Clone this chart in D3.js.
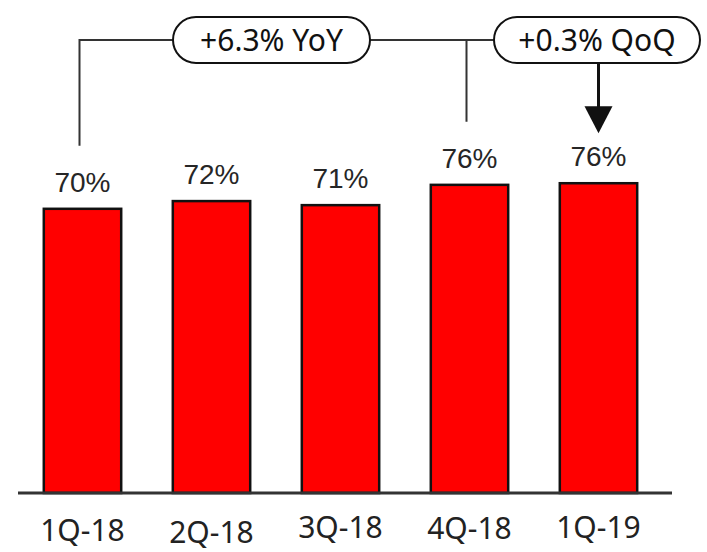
<!DOCTYPE html>
<html>
<head>
<meta charset="utf-8">
<script src="https://cdn.jsdelivr.net/npm/d3@7"></script>
<style>
  body { margin: 0; background: #fff; }
</style>
</head>
<body>
<div id="chart"></div>
<script>
// data
var quarters = ["1Q-18", "2Q-18", "3Q-18", "4Q-18", "1Q-19"];
var shares = [70.0, 71.9, 70.9, 75.9, 76.3];
var yoyText = "+6.3% YoY";
var qoqText = "+0.3% QoQ";

var W = 707, H = 552;
var baseY = 493;

var svg = d3.select("#chart")
    .append("svg")
    .attr("width", W)
    .attr("height", H);

var xScale = d3.scaleBand().domain(quarters).range([18, 663]).paddingInner(0.4).paddingOuter(0.2);
var yScale = d3.scaleLinear().domain([0, 100]).range([baseY, 87]);

function cx(q) { return xScale(q) + xScale.bandwidth() / 2; }

// bars
svg.append("g")
    .selectAll("rect")
    .data(quarters)
    .enter()
    .append("rect")
    .attr("x", function(d) { return xScale(d); })
    .attr("y", function(d, i) { return yScale(shares[i]); })
    .attr("width", xScale.bandwidth())
    .attr("height", function(d, i) { return baseY - yScale(shares[i]); })
    .style("fill", "#ff0000")
    .style("stroke", "#111")
    .style("stroke-width", 2.5);

// baseline
svg.append("line")
    .attr("x1", 18).attr("x2", 672)
    .attr("y1", baseY).attr("y2", baseY)
    .style("stroke", "#333")
    .style("stroke-width", 3);

// value labels
svg.append("g")
    .selectAll("text")
    .data(quarters)
    .enter()
    .append("text")
    .attr("x", function(d) { return cx(d); })
    .attr("y", function(d, i) { return yScale(shares[i]) - 17; })
    .attr("text-anchor", "middle")
    .style("font-family", "'Liberation Sans', Arial, sans-serif")
    .style("font-size", "28px")
    .style("fill", "#262626")
    .text(function(d, i) { return Math.round(shares[i]) + "%"; });

// category labels (slightly staggered as in the original slide)
var tickDy = [0, 2, -3, -2, -3];
svg.append("g")
    .selectAll("text")
    .data(quarters)
    .enter()
    .append("text")
    .attr("x", function(d) { return cx(d); })
    .attr("y", function(d, i) { return 541 + tickDy[i]; })
    .attr("text-anchor", "middle")
    .style("font-family", "'Noto Sans', 'Open Sans', sans-serif")
    .style("font-size", "30px")
    .style("fill", "#222")
    .text(function(d) { return d; });

// annotations
var lineY = 40;
var first = quarters[0], prev = quarters[3], last = quarters[4];
var ann = svg.append("g");

var yoyBox = { x0: 173, x1: 370 };
var qoqBox = { x0: 494, x1: 700 };

// bracket lines
ann.append("path")
    .attr("d", "M" + (cx(first) - 3) + "," + (yScale(shares[0]) - 63) +
               "V" + lineY + "H" + yoyBox.x0 +
               "M" + yoyBox.x1 + "," + lineY + "H" + qoqBox.x0 +
               "M" + (cx(prev) - 3) + "," + lineY + "V" + (yScale(shares[3]) - 63))
    .style("fill", "none")
    .style("stroke", "#333")
    .style("stroke-width", 2);

// arrow to last bar
var tipY = yScale(shares[4]) - 50;
ann.append("line")
    .attr("x1", cx(last)).attr("x2", cx(last))
    .attr("y1", 63).attr("y2", tipY - 20)
    .style("stroke", "#111")
    .style("stroke-width", 3);
ann.append("path")
    .attr("d", "M" + (cx(last) - 14) + "," + (tipY - 27) + "L" + (cx(last) + 14) + "," + (tipY - 27) + "L" + cx(last) + "," + tipY + "Z")
    .style("fill", "#111");

// pills
[[yoyBox, yoyText], [qoqBox, qoqText]].forEach(function(p) {
    var b = p[0];
    ann.append("rect")
        .attr("x", b.x0).attr("y", 17)
        .attr("width", b.x1 - b.x0).attr("height", 46)
        .attr("rx", 23).attr("ry", 23)
        .style("fill", "#fff")
        .style("stroke", "#111")
        .style("stroke-width", 2);
    ann.append("text")
        .attr("x", (b.x0 + b.x1) / 2)
        .attr("y", 51)
        .attr("text-anchor", "middle")
        .style("font-family", "'Noto Sans', 'Open Sans', sans-serif")
        .style("font-size", "30px")
        .style("fill", "#111")
        .text(p[1]);
});
</script>
</body>
</html>
